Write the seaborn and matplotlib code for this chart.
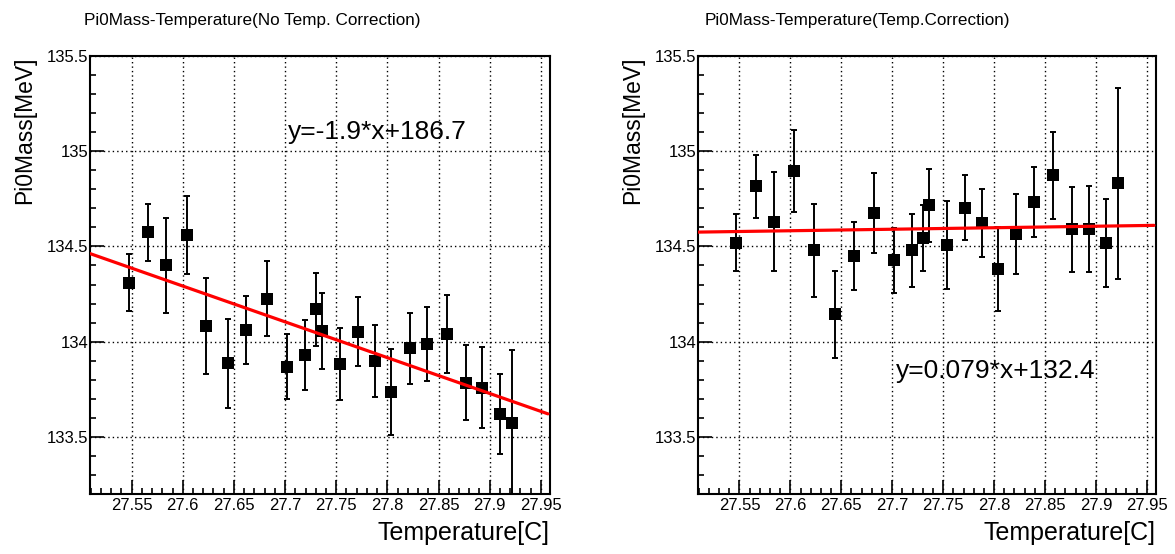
import numpy as np
import pandas as pd
import matplotlib
matplotlib.use("Agg")
import matplotlib.pyplot as plt
import seaborn as sns
from matplotlib.ticker import MultipleLocator, FixedLocator, FuncFormatter

# ---------------- data ----------------
temperature = [27.547, 27.566, 27.584, 27.604, 27.623, 27.644, 27.662, 27.682,
               27.702, 27.7195, 27.730, 27.736, 27.754, 27.771, 27.788, 27.804,
               27.822, 27.839, 27.858, 27.877, 27.893, 27.910, 27.922]

mass_nocorr = [134.31, 134.575, 134.40, 134.558, 134.082, 133.886, 134.061, 134.226,
               133.869, 133.93, 134.169, 134.056, 133.881, 134.052, 133.898, 133.736,
               133.965, 133.986, 134.038, 133.785, 133.759, 133.622, 133.575]
err_nocorr = [0.15, 0.15, 0.25, 0.205, 0.25, 0.235, 0.18, 0.195,
              0.17, 0.185, 0.19, 0.20, 0.19, 0.18, 0.19, 0.225,
              0.185, 0.195, 0.205, 0.195, 0.215, 0.21, 0.38]

mass_corr = [134.519, 134.816, 134.63, 134.895, 134.479, 134.143, 134.449, 134.673,
             134.427, 134.479, 134.545, 134.715, 134.507, 134.703, 134.624, 134.383,
             134.563, 134.733, 134.873, 134.589, 134.593, 134.519, 134.831]
err_corr = [0.15, 0.165, 0.26, 0.215, 0.245, 0.23, 0.18, 0.21,
            0.17, 0.19, 0.175, 0.19, 0.23, 0.17, 0.18, 0.22,
            0.21, 0.185, 0.23, 0.225, 0.225, 0.23, 0.5]

fit_nocorr = (-1.88, 186.18)   # slope, intercept of drawn line
fit_corr = (0.079, 132.402)

titles = ["Pi0Mass-Temperature(No Temp. Correction)", "Pi0Mass-Temperature(Temp.Correction)"]
fit_labels = ["y=-1.9*x+186.7", "y=0.079*x+132.4"]
x_ticks = [27.55, 27.6, 27.65, 27.7, 27.75, 27.8, 27.85, 27.9, 27.95]
y_ticks = [133.5, 134, 134.5, 135, 135.5]
x_label = "Temperature[C]"
y_label = "Pi0Mass[MeV]"

# ---------------- style ----------------
sns.set_theme(style="white")
plt.rcParams['font.family'] = ['Liberation Sans', 'DejaVu Sans']
plt.rcParams['axes.unicode_minus'] = False

fig = plt.figure(figsize=(11.75, 5.54), dpi=100)
W, H = 1175, 554

panels = [
    dict(rect=(90, 56, 550, 494), mass=mass_nocorr, err=err_nocorr, fit=fit_nocorr,
         title=titles[0], title_x=252, txt=fit_labels[0], txt_xy=(27.7026, 135.103)),
    dict(rect=(698, 56, 1156, 494), mass=mass_corr, err=err_corr, fit=fit_corr,
         title=titles[1], title_x=857, txt=fit_labels[1], txt_xy=(27.7033, 133.844)),
]

xlim = (27.5093, 27.959)
ylim = (133.2, 135.5)

def fmt(v, pos):
    s = f"{v:.2f}".rstrip('0').rstrip('.')
    return s

for p in panels:
    x0, y0, x1, y1 = p["rect"]
    ax = fig.add_axes([x0 / W, 1 - y1 / H, (x1 - x0) / W, (y1 - y0) / H])
    df = pd.DataFrame({"T": temperature, "M": p["mass"], "E": p["err"]})

    # grid
    ax.set_axisbelow(True)
    ax.grid(True, which="major", color="black", linestyle=(0, (1, 2.2)), linewidth=1.0)

    # error bars
    ax.errorbar(df["T"], df["M"], yerr=df["E"], fmt="none", ecolor="black",
                elinewidth=1.4, capsize=2.2, capthick=1.4, zorder=3)
    # markers
    sns.scatterplot(data=df, x="T", y="M", marker="s", s=85, color="black",
                    edgecolor="black", linewidth=0, ax=ax, zorder=4, legend=False)

    # fit line
    xs = np.array([xlim[0], 27.957])
    fit_df = pd.DataFrame({"T": xs, "M": p["fit"][0] * xs + p["fit"][1]})
    sns.lineplot(data=fit_df, x="T", y="M", color="red", linewidth=2.3, ax=ax, zorder=5)

    ax.set_xlim(*xlim)
    ax.set_ylim(*ylim)
    ax.xaxis.set_major_locator(FixedLocator(x_ticks))
    ax.xaxis.set_minor_locator(MultipleLocator(0.01))
    ax.yaxis.set_major_locator(FixedLocator(y_ticks))
    ax.yaxis.set_minor_locator(MultipleLocator(0.1))
    ax.xaxis.set_major_formatter(FuncFormatter(fmt))
    ax.yaxis.set_major_formatter(FuncFormatter(fmt))

    ax.tick_params(which="both", direction="in", bottom=True, left=True,
                   top=False, right=False,
                   labelsize=12, color="black", labelcolor="black")
    ax.tick_params(which="major", length=10, width=1.2)
    ax.tick_params(which="minor", length=4.5, width=1.2)
    ax.tick_params(axis="x", which="major", pad=3)
    ax.tick_params(axis="y", which="major", pad=1)

    for sp in ax.spines.values():
        sp.set_visible(True)
        sp.set_color("black")
        sp.set_linewidth(1.5)

    ax.set_xlabel(x_label, fontsize=18, loc="right", color="black")
    ax.set_ylabel(y_label, fontsize=16.5, loc="top", color="black")
    ax.xaxis.set_label_coords(1.0, -0.062)
    ax.yaxis.set_label_coords(-0.118, 1.0)

    ax.text(p["txt_xy"][0], p["txt_xy"][1], p["txt"], fontsize=19, ha="left",
            va="center", color="black", zorder=6)

    fig.text(p["title_x"] / W, 1 - 20 / H, p["title"], fontsize=12.3,
             ha="center", va="center", color="black")

fig.savefig("out.png", dpi=100)
